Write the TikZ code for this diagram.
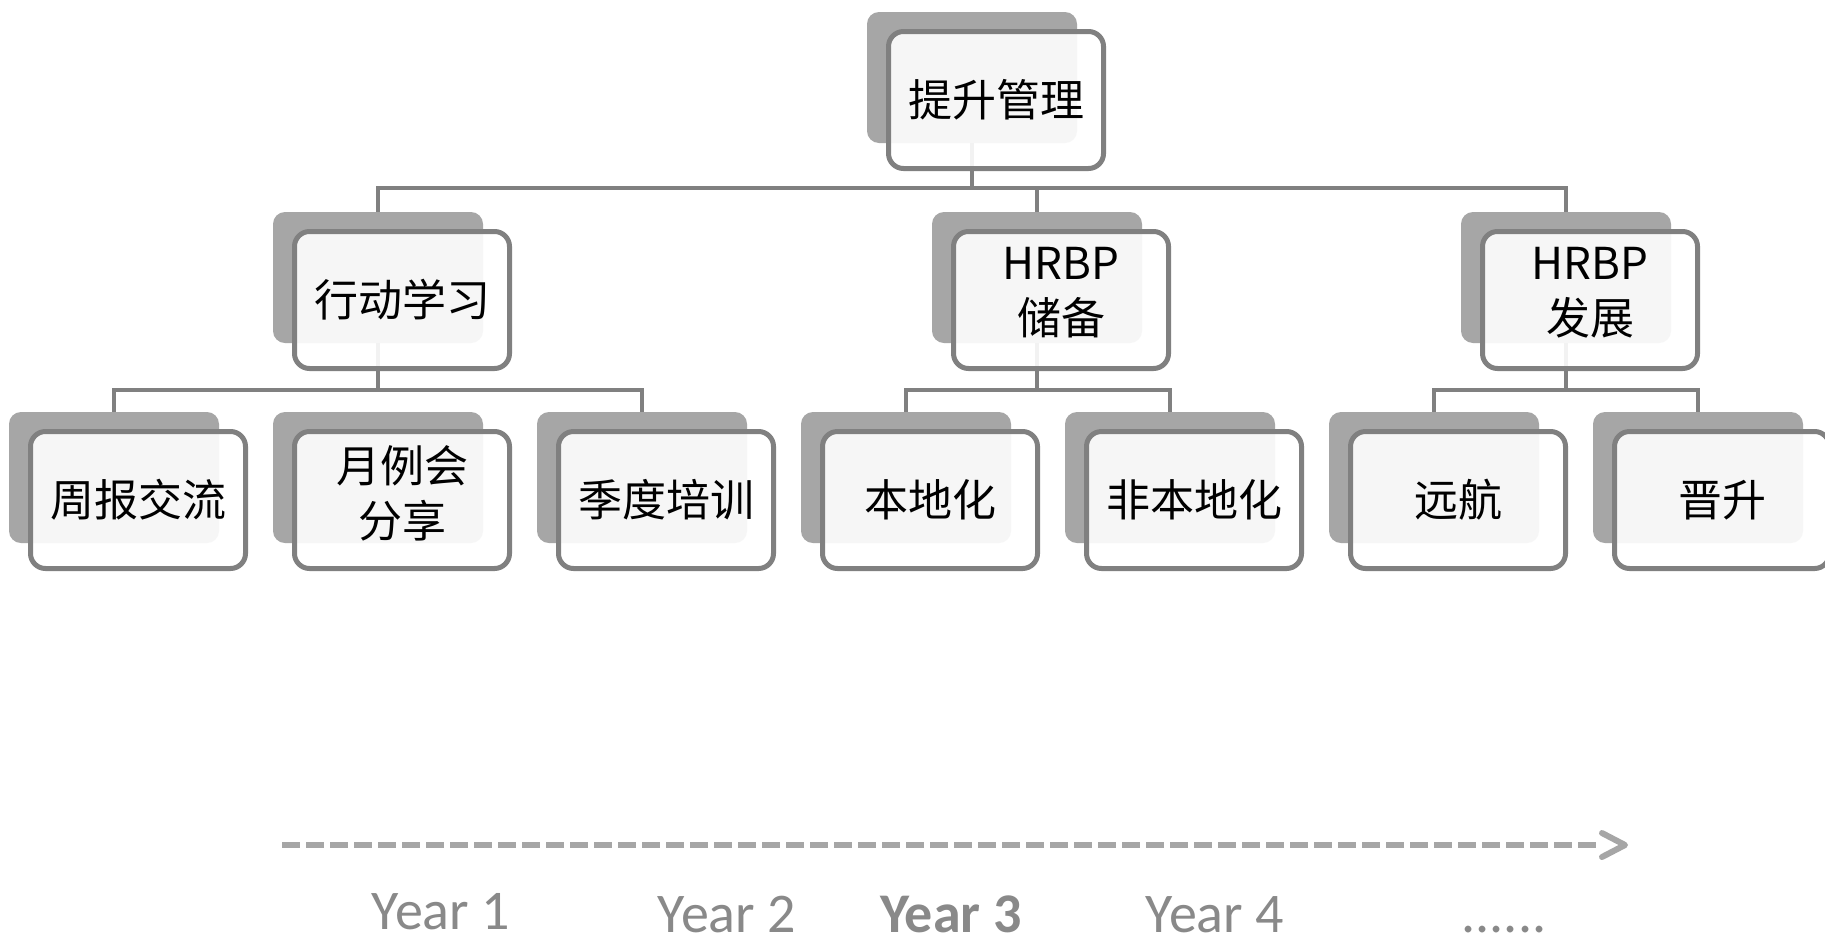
\documentclass[tikz,border=0pt]{standalone}
\usepackage{fontspec}
\setmainfont{Carlito}
\newfontfamily\cjk{Noto Sans CJK SC}
\definecolor{backgray}{RGB}{166,166,166}
\definecolor{linegray}{RGB}{128,128,128}
\definecolor{yeargray}{RGB}{137,137,137}
\definecolor{arrowgray}{RGB}{166,166,166}
\tikzset{
  backbox/.style={rectangle, rounded corners=12pt, fill=backgray, draw=none,
    minimum width=210pt, minimum height=131pt, inner sep=0pt, outer sep=0pt},
  frontbox/.style={rectangle, rounded corners=15pt, fill=white, fill opacity=0.9,
    draw=linegray, draw opacity=1, line width=5pt,
    minimum width=215pt, minimum height=137pt, inner sep=0pt, outer sep=0pt},
  boxtext/.style={font=\cjk\fontsize{44}{55}\selectfont, text=black, align=center, inner sep=0pt},
  conn/.style={draw=linegray, line width=4.5pt},
  yeartext/.style={font=\fontsize{56}{60}\selectfont, text=yeargray, anchor=base, inner sep=0pt, text depth=0pt},
}
\begin{document}
\begin{tikzpicture}[x=1pt,y=-1pt]
\useasboundingbox (0,0) rectangle (1825,938);
\clip (0,0) rectangle (1825,938);
\fill[white] (0,0) rectangle (1825,938);
% back boxes (positions)
\coordinate (pb1) at (972,77.5);
\coordinate (pb2) at (378,277.5);
\coordinate (pb3) at (1037,277.5);
\coordinate (pb4) at (1566,277.5);
\coordinate (pc1) at (114,477.5);
\coordinate (pc2) at (378,477.5);
\coordinate (pc3) at (642,477.5);
\coordinate (pc4) at (906,477.5);
\coordinate (pc5) at (1170,477.5);
\coordinate (pc6) at (1434,477.5);
\coordinate (pc7) at (1698,477.5);
\coordinate (bus1) at (0,188);
\coordinate (bus2) at (0,390);
% connectors (drawn first, beneath the boxes)
\draw[conn] (pb1) -- (pb1 |- bus1);
\draw[conn] ([yshift=65.5pt]pb2) |- (pb1 |- bus1) -| ([yshift=65.5pt]pb4);
\draw[conn] ([yshift=65.5pt]pb3) -- (pb3 |- bus1);
\draw[conn] (pb2) -- (pb2 |- bus2);
\draw[conn] ([yshift=65.5pt]pc1) |- (pb2 |- bus2) -| ([yshift=65.5pt]pc3);
\draw[conn] (pb3) -- (pb3 |- bus2);
\draw[conn] ([yshift=65.5pt]pc4) |- (pb3 |- bus2) -| ([yshift=65.5pt]pc5);
\draw[conn] (pb4) -- (pb4 |- bus2);
\draw[conn] ([yshift=65.5pt]pc6) |- (pb4 |- bus2) -| ([yshift=65.5pt]pc7);
% boxes
\foreach \n in {b1,b2,b3,b4,c1,c2,c3,c4,c5,c6,c7}{
  \node[backbox] (\n) at (p\n) {};
}
\foreach \n in {b1,b2,b3,b4,c1,c2,c3,c4,c5,c6,c7}{
  \node[frontbox] (f\n) at ([xshift=24pt,yshift=-22.5pt]\n.center) {};
}
% texts
\node[boxtext] (tb1) at (fb1.center) {提升管理};
\node[boxtext] (tb2) at (fb2.center) {行动学习};
\node[boxtext] (tb3) at ([yshift=7pt]fb3.center) {HRBP\\储备};
\node[boxtext] (tb4) at ([yshift=7pt]fb4.center) {HRBP\\发展};
\node[boxtext] (tc1) at (fc1.center) {周报交流};
\node[boxtext] (tc2) at ([yshift=7pt]fc2.center) {月例会\\分享};
\node[boxtext] (tc3) at (fc3.center) {季度培训};
\node[boxtext] (tc4) at (fc4.center) {本地化};
\node[boxtext] (tc5) at (fc5.center) {非本地化};
\node[boxtext] (tc6) at (fc6.center) {远航};
\node[boxtext] (tc7) at (fc7.center) {晋升};
% timeline
\coordinate (tl0) at (282,845);
\coordinate (tl1) at (1598,845);
\coordinate (tip) at (1625,845);
\draw[draw=arrowgray, line width=6pt, dash pattern=on 18pt off 6pt] (tl0) -- (tl1);
\draw[draw=arrowgray, line width=6pt, line cap=round, line join=round]
  ([xshift=-23pt,yshift=12pt]tip) -- (tip) -- ([xshift=-23pt,yshift=-12pt]tip);
\node[yeartext] (y1) at (441,929) {Year 1};
\node[yeartext] (y2) at (727,932) {Year 2};
\node[yeartext, font=\fontsize{56}{60}\selectfont\bfseries] (y3) at (951,932) {Year 3};
\node[yeartext] (y4) at (1215,932) {Year 4};
\node[yeartext] (y5) at (1504,932) {......};
\end{tikzpicture}
\end{document}
